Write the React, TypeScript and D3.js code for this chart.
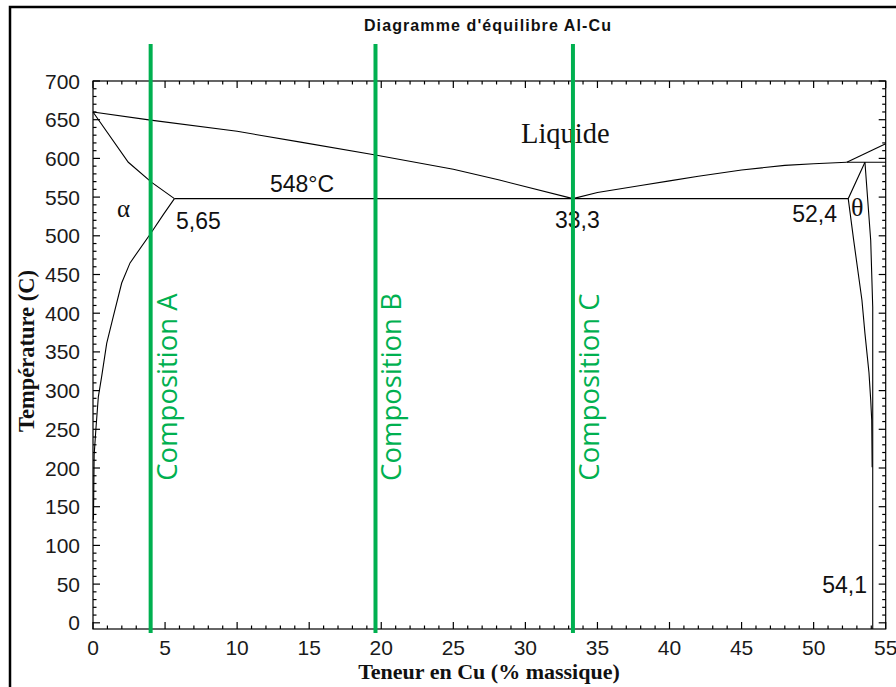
import React from "react";
import * as d3 from "d3";

// Al-Cu phase diagram (wt% Cu, °C)
const liquidusLeft: [number, number][] = [
  [0, 660], [4, 649.5], [10, 635], [14.4, 621], [19.6, 604.5], [25, 586], [28.2, 572], [33.3, 548],
];
const liquidusRight: [number, number][] = [
  [33.3, 548], [35, 556], [38, 565], [40, 571], [42, 577], [45, 585], [48, 591], [50, 593], [52.3, 595],
];
const liquidusTheta: [number, number][] = [[52.3, 595], [55, 619]];
const peritectic: [number, number][] = [[52.3, 595], [55, 595]];
const solidusAlpha: [number, number][] = [[0, 660], [2.45, 595], [4.07, 569], [5.65, 548]];
const solvusAlpha: [number, number][] = [
  [5.65, 548], [4.9, 528], [4.0, 503], [2.57, 465], [1.99, 439], [1.41, 396], [0.95, 361],
  [0.6, 318], [0.37, 292], [0.2, 250], [0.08, 217], [0.03, 133],
];
const eutectic: [number, number][] = [[5.65, 548], [52.4, 548]];
const thetaLeft: [number, number][] = [
  [53.56, 595], [52.4, 548], [52.78, 494], [53.35, 417], [53.56, 374], [53.84, 323],
  [53.96, 288], [54.03, 262], [54.06, 201],
];
const thetaRight: [number, number][] = [[53.56, 595], [53.96, 494], [54.1, 408], [54.1, -8]];

const compositions = [4.0, 19.6, 33.3];
const compositionNames = ["Composition A", "Composition B", "Composition C"];

const xMajor = d3.range(0, 56, 5);
const xMinor = d3.range(0, 56, 1);
const yMajor = d3.range(0, 701, 50);
const yMinor = d3.range(0, 701, 10);

const GREEN = "#00b050";
const SANS = "'Liberation Sans', Arial, sans-serif";
const SERIF = "'Liberation Serif', 'Times New Roman', serif";

export default function App() {
  const width = 896;
  const height = 687;
  const x = d3.scaleLinear().domain([0, 55]).range([93, 885.7]);
  const y = d3.scaleLinear().domain([-8, 700]).range([629, 81]);
  const [x0, x1] = x.range();
  const [y0, y1] = y.range();

  const line = d3
    .line<[number, number]>()
    .x((d) => x(d[0]))
    .y((d) => y(d[1]));

  const curves = [
    liquidusLeft, liquidusRight, liquidusTheta, peritectic, solidusAlpha,
    solvusAlpha, eutectic, thetaLeft, thetaRight,
  ];

  return (
    <svg width={width} height={height} style={{ position: "absolute", left: 0, top: 0 }}>
      <rect x={0} y={0} width={width} height={height} fill="#fff" />
      <rect x={10} y={7} width={900} height={720} fill="none" stroke="#000" strokeWidth={2.5} />

      <text x={488} y={31} textAnchor="middle" fontFamily={SANS} fontWeight="bold" fontSize={16} letterSpacing={1.1} fill="#111">
        Diagramme d'équilibre Al-Cu
      </text>

      {/* plot frame */}
      <rect x={x0} y={y1} width={x1 - x0} height={y0 - y1} fill="none" stroke="#000" strokeWidth={1.2} />

      {/* ticks, all pointing inward */}
      {xMinor.map((v) => {
        const len = v % 5 === 0 ? 7 : 3.5;
        return (
          <g key={"xt" + v} stroke="#000" strokeWidth={1.2}>
            <line x1={x(v)} x2={x(v)} y1={y0} y2={y0 - len} />
            <line x1={x(v)} x2={x(v)} y1={y1} y2={y1 + len} />
          </g>
        );
      })}
      {yMinor.map((v) => {
        const len = v % 50 === 0 ? 7 : 3.5;
        return (
          <g key={"yt" + v} stroke="#000" strokeWidth={1.2}>
            <line x1={x0} x2={x0 + len} y1={y(v)} y2={y(v)} />
            <line x1={x1} x2={x1 - len} y1={y(v)} y2={y(v)} />
          </g>
        );
      })}
      {xMajor.map((v) => (
        <text key={"xl" + v} x={x(v)} y={654.5} textAnchor="middle" fontFamily={SANS} fontSize={21} fill="#1a1a1a">
          {v}
        </text>
      ))}
      {yMajor.map((v) => (
        <text key={"yl" + v} x={80} y={y(v) + 7.5} textAnchor="end" fontFamily={SANS} fontSize={21} fill="#1a1a1a">
          {v}
        </text>
      ))}

      <text x={489} y={679} textAnchor="middle" fontFamily={SERIF} fontWeight="bold" fontSize={22} fill="#111">
        Teneur en Cu (%  massique)
      </text>
      <text
        transform={`translate(34,351) rotate(-90)`}
        textAnchor="middle"
        fontFamily={SERIF}
        fontWeight="bold"
        fontSize={22.5}
        fill="#111"
      >
        Température (C)
      </text>

      {/* phase boundaries */}
      {curves.map((c, i) => (
        <path key={"c" + i} d={line(c) ?? ""} fill="none" stroke="#000" strokeWidth={1.1} />
      ))}

      {/* annotations */}
      <text x={521} y={143} fontFamily={SERIF} fontSize={28.5} fill="#111">Liquide</text>
      <text x={270} y={192} fontFamily={SANS} fontSize={23} fill="#111">548°C</text>
      <text x={117} y={217} fontFamily={SERIF} fontSize={25} fill="#111">α</text>
      <text x={176} y={229} fontFamily={SANS} fontSize={23} fill="#111">5,65</text>
      <text x={555} y={228} fontFamily={SANS} fontSize={23} fill="#111">33,3</text>
      <text x={837} y={222} textAnchor="end" fontFamily={SANS} fontSize={23} fill="#111">52,4</text>
      <text x={851} y={216} fontFamily={SERIF} fontSize={26} fill="#111">θ</text>
      <text x={867} y={593} textAnchor="end" fontFamily={SANS} fontSize={23} fill="#111">54,1</text>

      {/* composition markers */}
      {compositions.map((c, i) => (
        <g key={"comp" + i}>
          <line x1={x(c)} x2={x(c)} y1={44} y2={633} stroke={GREEN} strokeWidth={4} />
          <text
            transform={`translate(${x(c) + 26},387) rotate(-90)`}
            textAnchor="middle"
            fontFamily="'Open Sans', 'Noto Sans', sans-serif"
            fontSize={27.5}
            fill={GREEN}
          >
            {compositionNames[i]}
          </text>
        </g>
      ))}
    </svg>
  );
}
